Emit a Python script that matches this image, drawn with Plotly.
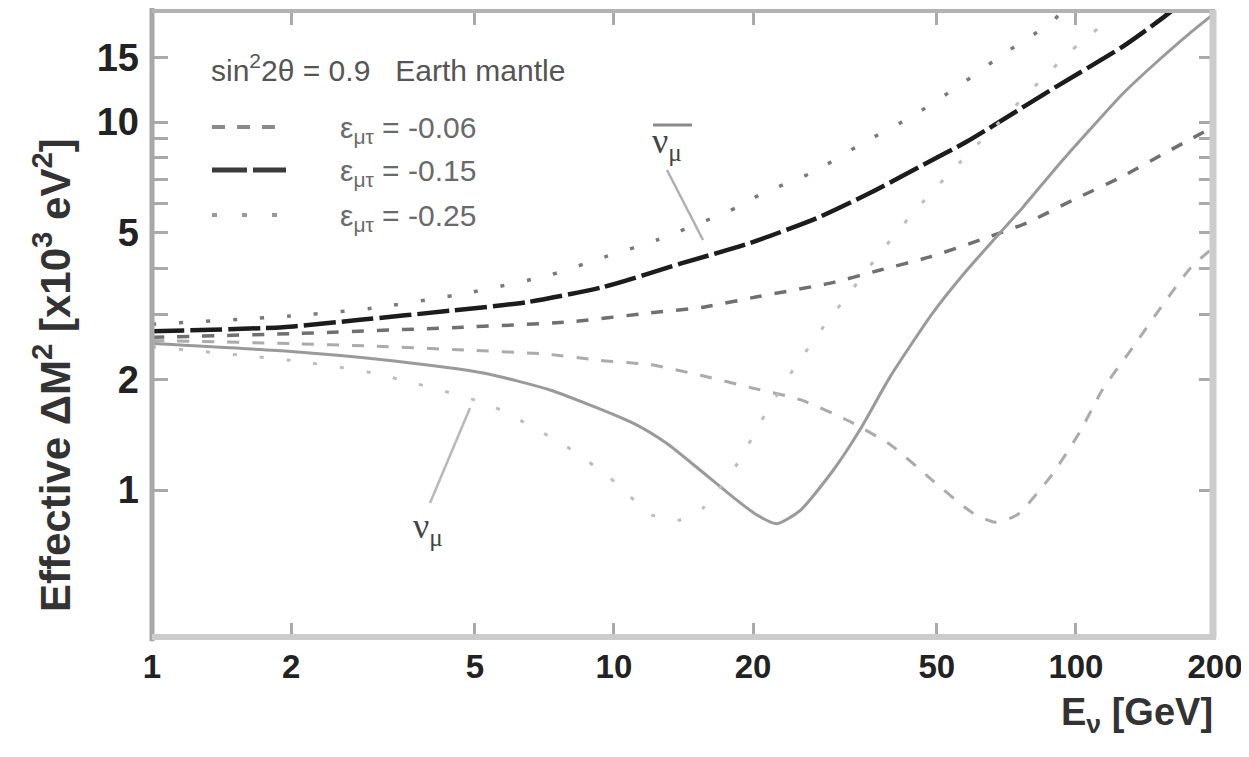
import plotly.graph_objects as go

# ---------------- data ----------------
# anti-neutrino curves (upper branch)
E_nubar_006 = [1, 2, 4.71, 7.91, 12.0, 15.6, 20.4, 29.4, 37.7, 48.3, 62.0, 78.3, 98.6, 124, 156, 200]
V_nubar_006 = [2.60, 2.66, 2.77, 2.86, 3.03, 3.14, 3.35, 3.65, 3.96, 4.30, 4.78, 5.32, 6.14, 7.04, 8.24, 9.75]

E_nubar_015 = [1, 1.92, 2.82, 4.42, 6.48, 9.47, 14.1, 19.7, 27.5, 35.8, 46.6, 58.1, 90.9, 126, 160, 170]
V_nubar_015 = [2.70, 2.77, 2.90, 3.07, 3.24, 3.56, 4.14, 4.69, 5.48, 6.41, 7.64, 8.85, 12.5, 16.0, 19.9, 21.5]

E_nubar_025 = [1, 2, 3, 4.81, 7.27, 9.56, 12.4, 16.3, 18.5, 21.0, 27.0, 34.6, 44.4, 56.1, 70.2, 88.7, 95]
V_nubar_025 = [2.82, 2.97, 3.12, 3.43, 3.84, 4.30, 4.78, 5.48, 5.87, 6.41, 7.31, 8.77, 10.4, 12.6, 15.4, 18.7, 20.5]

# neutrino curves (lower branch, with resonance dip)
E_nu_006 = [1, 2, 3, 4.81, 7.16, 9.33, 12.0, 15.4, 19.7, 25.3, 31.9, 39.6, 49.0, 59.8, 66.8, 74.5, 88.7, 102, 114, 133, 154, 177, 200]
V_nu_006 = [2.55, 2.50, 2.46, 2.40, 2.34, 2.25, 2.19, 2.05, 1.90, 1.76, 1.55, 1.33, 1.06, 0.866, 0.818, 0.855, 1.10, 1.44, 1.87, 2.45, 3.18, 4.01, 4.6]

E_nu_015 = [1, 2, 3.16, 5.21, 7.27, 11.0, 13.0, 15.4, 18.1, 20.4, 22.5, 25.3, 29.8, 34.1, 39.6, 49.0, 58.1, 76.8, 90.9, 107, 126, 150, 177, 200]
V_nu_015 = [2.50, 2.38, 2.26, 2.08, 1.87, 1.52, 1.34, 1.13, 0.957, 0.855, 0.81, 0.88, 1.13, 1.46, 2.03, 3.03, 3.96, 5.87, 7.55, 9.51, 11.9, 14.6, 17.5, 19.8]

E_nu_025 = [1, 2, 3, 5.39, 7.91, 9.80, 12.1, 13.9, 15.6, 18.5, 21.2, 24.6, 28.9, 31.9, 37.1, 44.4, 53.3, 97.0, 120]
V_nu_025 = [2.45, 2.25, 2.08, 1.70, 1.31, 1.08, 0.855, 0.829, 0.894, 1.18, 1.60, 2.15, 2.86, 3.35, 4.30, 5.66, 7.27, 15.5, 19.3]

x_tickvals = [1, 2, 5, 10, 20, 50, 100, 200]
x_ticktext = ["1", "2", "5", "10", "20", "50", "100", "200"]
y_tickvals = [1, 2, 3, 4, 5, 6, 7, 8, 9, 10, 15]
y_ticktext = ["1", "2", "", "", "5", "", "", "", "", "10", "15"]

legend_labels = ["ε<sub>μτ</sub> = -0.06", "ε<sub>μτ</sub> = -0.15", "ε<sub>μτ</sub> = -0.25"]
heading = "sin<sup>2</sup>2θ = 0.9\u00a0\u00a0\u00a0Earth mantle"

# ---------------- layout helpers ----------------
# page is shown with an 8px body margin; keep the figure inside the window
W, H = 1241, 735
OFF = 8
SL, SR, ST, SB = 152, 1215, 10, 638  # plot area in screen pixels


def px(x):
    return (x - SL) / (SR - SL)


def py(y):
    return (SB - y) / (SB - ST)


fig = go.Figure()

curves = [
    (E_nubar_006, V_nubar_006, "#707070", 3.5, "12px,13px"),
    (E_nubar_015, V_nubar_015, "#1c1c1c", 4.5, "32px,6px"),
    (E_nubar_025, V_nubar_025, "#7a7a7a", 3.5, "4px,23px"),
    (E_nu_006, V_nu_006, "#ababab", 3.0, "12px,13px"),
    (E_nu_015, V_nu_015, "#9a9a9a", 3.0, "solid"),
    (E_nu_025, V_nu_025, "#bdbdbd", 3.0, "4px,23px"),
]
for xs, ys, col, w, dash in curves:
    fig.add_trace(go.Scatter(x=xs, y=ys, mode="lines",
                             line=dict(color=col, width=w, dash=dash, shape="spline", smoothing=0.6),
                             showlegend=False, hoverinfo="skip"))

shapes = []
# frame
shapes.append(dict(type="line", xref="paper", yref="paper", x0=0, x1=0, y0=-0.005, y1=1.005,
                   line=dict(color="#a8a8a8", width=5)))
shapes.append(dict(type="line", xref="paper", yref="paper", x0=0, x1=1, y0=py(11), y1=py(11),
                   line=dict(color="#b3b3b3", width=4)))
shapes.append(dict(type="line", xref="paper", yref="paper", x0=px(1213), x1=px(1213), y0=0, y1=1,
                   line=dict(color="#cccccc", width=7)))
shapes.append(dict(type="line", xref="paper", yref="paper", x0=0, x1=px(1216), y0=py(637), y1=py(637),
                   line=dict(color="#cccccc", width=6)))
# legend samples
legend_y = [127, 170, 215]
legend_styles = [("#8a8a8a", 4, "13px,12px"), ("#3a3a3a", 5, "35px,6px"), ("#9a9a9a", 4, "5px,25px")]
for yy, (c, w, d) in zip(legend_y, legend_styles):
    shapes.append(dict(type="line", xref="paper", yref="paper", x0=px(212), x1=px(286), y0=py(yy), y1=py(yy),
                       line=dict(color=c, width=w, dash=d)))
# pointer lines and overbar
shapes.append(dict(type="line", xref="paper", yref="paper", x0=px(667), x1=px(703), y0=py(170), y1=py(240),
                   line=dict(color="#b0b0b0", width=2.5)))
shapes.append(dict(type="line", xref="paper", yref="paper", x0=px(430), x1=px(470), y0=py(503), y1=py(408),
                   line=dict(color="#b8b8b8", width=2.5)))
shapes.append(dict(type="line", xref="paper", yref="paper", x0=px(653), x1=px(692), y0=py(125), y1=py(125),
                   line=dict(color="#8a8a8a", width=3)))

annotations = []
annotations.append(dict(text=heading, xref="paper", yref="paper", x=px(209), y=py(68),
                        xanchor="left", yanchor="middle", showarrow=False,
                        font=dict(family="Liberation Sans", size=30, color="#555555")))
for yy, lab in zip(legend_y, legend_labels):
    annotations.append(dict(text=lab, xref="paper", yref="paper", x=px(338), y=py(yy + 2),
                            xanchor="left", yanchor="middle", showarrow=False,
                            font=dict(family="Liberation Sans", size=30, color="#6a6a6a")))
annotations.append(dict(text="ν<sub>μ</sub>", xref="paper", yref="paper", x=px(650), y=py(144),
                        xanchor="left", yanchor="middle", showarrow=False,
                        font=dict(family="Liberation Serif", size=36, color="#444444")))
annotations.append(dict(text="ν<sub>μ</sub>", xref="paper", yref="paper", x=px(411), y=py(528),
                        xanchor="left", yanchor="middle", showarrow=False,
                        font=dict(family="Liberation Serif", size=36, color="#444444")))
annotations.append(dict(text="Effective ΔM<sup>2</sup> [x10<sup>3</sup> eV<sup>2</sup>]",
                        xref="paper", yref="paper", x=px(52), y=py(375), textangle=-90,
                        xanchor="center", yanchor="middle", showarrow=False,
                        font=dict(family="Liberation Sans", size=42, color="#333333", weight="bold")))
annotations.append(dict(text="E<sub>ν</sub> [GeV]", xref="paper", yref="paper", x=1.0, y=py(715),
                        xanchor="right", yanchor="middle", showarrow=False,
                        font=dict(family="Liberation Sans", size=38, color="#333333", weight="bold")))

fig.update_layout(
    width=W, height=H,
    margin=dict(l=SL - OFF, r=W - (SR - OFF), t=ST - OFF, b=H - (SB - OFF)),
    paper_bgcolor="white", plot_bgcolor="white",
    shapes=shapes, annotations=annotations,
    showlegend=False,
)
fig.update_xaxes(type="log", range=[0, 2.30103], tickvals=x_tickvals, ticktext=x_ticktext,
                 ticks="inside", ticklen=15, tickwidth=3, tickcolor="#aaaaaa", mirror="ticks",
                 showline=False, showgrid=False, zeroline=False, ticklabelstandoff=6,
                 ticklabeloverflow="allow",
                 tickfont=dict(family="Liberation Sans", size=33, color="#222222", weight="bold"))
fig.update_yaxes(type="log", range=[-0.402, 1.3043], tickvals=y_tickvals, ticktext=y_ticktext,
                 ticks="inside", ticklen=16, tickwidth=3, tickcolor="#aaaaaa", mirror="ticks",
                 showline=False, showgrid=False, zeroline=False, ticklabelstandoff=12,
                 tickfont=dict(family="Liberation Sans", size=38, color="#222222", weight="bold"))

fig.write_html("out.html")
